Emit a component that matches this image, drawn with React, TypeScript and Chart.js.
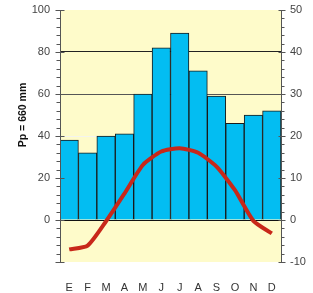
import React, { useEffect, useRef } from "react";
import { Chart, registerables } from "chart.js";

Chart.register(...registerables);

const months = ["E", "F", "M", "A", "M", "J", "J", "A", "S", "O", "N", "D"];
const precipitation = [38, 32, 40, 41, 60, 82, 89, 71, 59, 46, 50, 52];
const temperature = [-7, -6.1, -0.3, 6.3, 13.1, 16.3, 17.1, 16, 12.7, 7.1, -0.2, -3.2];
const yLabel = "Pp = 660 mm";

const FONT = "'Liberation Sans', Arial, sans-serif";

const decorPlugin = {
  id: "decor",
  beforeDraw(chart: any) {
    const { ctx, chartArea } = chart;
    ctx.save();
    ctx.fillStyle = "#fefbca";
    ctx.fillRect(chartArea.left, chartArea.top, chartArea.right - chartArea.left, chartArea.bottom - chartArea.top);
    ctx.restore();
  },
  afterDraw(chart: any) {
    const { ctx, chartArea } = chart;
    const y = chart.scales.y;
    const y1 = chart.scales.y1;
    ctx.save();
    ctx.strokeStyle = "#555";
    ctx.lineWidth = 1;
    const lx = Math.round(chartArea.left) + 0.5;
    ctx.beginPath();
    ctx.moveTo(lx, chartArea.top);
    ctx.lineTo(lx, chartArea.bottom);
    for (let v = -20; v <= 100; v += 4) {
      const py = Math.round(y.getPixelForValue(v)) + 0.5;
      if (v % 20 === 0) {
        ctx.moveTo(lx - 5, py);
        ctx.lineTo(lx + 4, py);
      } else {
        ctx.moveTo(lx - 4, py);
        ctx.lineTo(lx, py);
      }
    }
    const rx = Math.round(chartArea.right) + 0.5;
    ctx.moveTo(rx, chartArea.top);
    ctx.lineTo(rx, chartArea.bottom);
    for (let v = -10; v <= 50; v += 2) {
      const py = Math.round(y1.getPixelForValue(v)) + 0.5;
      if (v % 10 === 0) {
        ctx.moveTo(rx - 3, py);
        ctx.lineTo(rx + 4, py);
      } else {
        ctx.moveTo(rx, py);
        ctx.lineTo(rx + 3, py);
      }
    }
    ctx.stroke();
    ctx.translate(23, 115);
    ctx.rotate(-Math.PI / 2);
    ctx.fillStyle = "#111";
    ctx.font = "bold 10.5px " + FONT;
    ctx.textAlign = "center";
    ctx.textBaseline = "middle";
    ctx.fillText(yLabel, 0, 0);
    ctx.restore();
  },
};

export default function App() {
  const ref = useRef<HTMLCanvasElement>(null);
  useEffect(() => {
    const chart = new Chart(ref.current as HTMLCanvasElement, {
      type: "bar",
      data: {
        labels: months,
        datasets: [
          {
            type: "line",
            data: temperature,
            yAxisID: "y1",
            borderColor: "#c8281a",
            borderWidth: 4,
            pointRadius: 0,
            tension: 0.2,
            order: 0,
          } as any,
          {
            type: "bar",
            data: precipitation,
            yAxisID: "y",
            backgroundColor: "#03bdf2",
            borderColor: "#1a1a1a",
            borderWidth: 1,
            categoryPercentage: 1,
            barPercentage: 1,
            order: 1,
          },
        ],
      },
      plugins: [decorPlugin],
      options: {
        animation: false,
        responsive: false,
        layout: { padding: { top: 10, left: 0, right: 0, bottom: 0 } },
        plugins: { legend: { display: false }, tooltip: { enabled: false } },
        scales: {
          x: {
            grid: { display: false },
            border: { display: false },
            ticks: { color: "#333", font: { family: FONT, size: 11 }, padding: 11 },
            afterFit: (s: any) => { s.height = 31; s.paddingLeft = 0; s.paddingRight = 0; },
          },
          y: {
            position: "left",
            min: -20,
            max: 100,
            border: { display: false },
            grid: {
              drawTicks: false,
              color: (c: any) => {
                const v = c.tick?.value;
                if (v === 80) return "#222";
                if (v === 60) return "#555";
                if (v === 40) return "#f4f4ee";
                if (v === 0) return "#111";
                return "rgba(0,0,0,0)";
              },
            },
            ticks: {
              stepSize: 20,
              padding: 10,
              color: "#444",
              font: { family: FONT, size: 11 },
              callback: (v: any) => (Number(v) >= 0 ? String(v) : ""),
            },
            afterFit: (s: any) => { s.width = 60; s.paddingTop = 0; s.paddingBottom = 0; },
          },
          y1: {
            position: "right",
            min: -10,
            max: 50,
            border: { display: false },
            grid: { display: false, drawTicks: false },
            ticks: {
              stepSize: 10,
              padding: 9,
              color: "#444",
              font: { family: FONT, size: 11 },
            },
            afterFit: (s: any) => { s.width = 32; s.paddingTop = 0; s.paddingBottom = 0; },
          },
        },
      },
    } as any);
    return () => chart.destroy();
  }, []);
  return (
    <div style={{ position: "fixed", left: 0, top: 0, width: 313, height: 293, background: "#fff" }}>
      <canvas ref={ref} width={313} height={293} style={{ width: 313, height: 293 }} />
    </div>
  );
}
